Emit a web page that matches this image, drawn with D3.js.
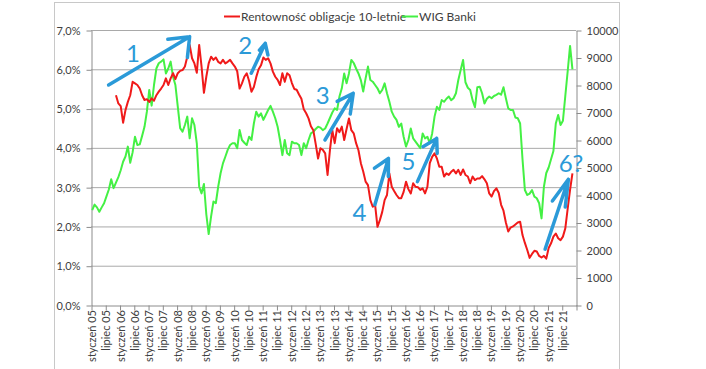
<!DOCTYPE html>
<html><head><meta charset="utf-8">
<script src="https://cdn.jsdelivr.net/npm/d3@7"></script>
<style>
body{margin:0;background:#fff}
svg{display:block}
text{font-family:Lato,"Open Sans",sans-serif}
</style>
</head><body>
<svg id="c" width="706" height="369"></svg>
<script>
const monthNames = ["styczeń","luty","marzec","kwiecień","maj","czerwiec","lipiec","sierpień","wrzesień","październik","listopad","grudzień"];
const yearLabels = ["05","06","07","08","09","10","11","12","13","14","15","16","17","18","19","20","21"];
const categories = yearLabels.flatMap(y => monthNames.map(m => m + " " + y));
const leftTicks = [0,1,2,3,4,5,6,7];
const rightTicks = [0,1000,2000,3000,4000,5000,6000,7000,8000,9000,10000];
const seriesNames = ["Rentowność obligacje 10-letnie","WIG Banki"];

// WIG Banki (right axis), monthly from styczeń 05
const wigBanki = [
3450,3650,3550,3390,3550,3700,3950,4200,4570,4250,
4450,4650,4900,5210,5400,5760,5170,5550,6120,5820,
5840,6150,6480,7030,7820,7250,8000,8600,8790,8850,
8930,8420,8600,8850,8300,8000,7210,6430,6300,6545,
6850,6060,6790,6545,5880,4300,4060,4400,3300,2580,
3210,3760,3700,4300,4790,5150,5390,5640,5820,5880,
5880,5700,6360,6000,5900,5820,6120,6000,6600,7030,
6850,6970,6730,6910,7090,7240,7030,6790,6480,6000,
5450,6000,5520,5450,5940,5880,5880,5820,5450,5880,
5700,6000,6240,6300,6400,6480,6450,6360,6420,6600,
6800,7000,7150,7090,7580,7880,8420,8060,8420,8910,
8800,8600,8420,8180,7760,8240,8670,8180,8120,8000,
7880,7700,7820,8060,7700,7390,7030,6850,6730,6480,
6600,6120,5760,6000,6420,6060,5940,5820,5700,6240,
6060,6120,5880,6240,6850,7210,7090,7450,7390,7500,
7580,7450,7520,7700,8180,8550,8910,8100,7900,7820,
7450,7190,7920,7940,7700,7330,7500,7580,7520,7600,
7640,7700,7650,7920,7520,7150,7090,7090,6820,6790,
6600,5300,4180,4000,4050,4180,3940,3880,3700,3150,
4300,4800,5000,5300,5600,6600,6910,6545,6700,7600,
8500,9420,8570];

// Rentowność obligacji 10-letnich, % (left axis), same months
const bondYield = [
null,null,null,null,null,null,null,null,null,null,
5.34,5.13,5.06,4.64,4.96,5.17,5.34,5.68,5.64,5.60,
5.51,5.34,5.22,5.24,5.17,5.26,5.20,5.34,5.43,5.51,
5.60,5.77,5.60,5.77,5.90,5.75,5.90,5.96,5.98,6.07,
6.32,6.62,6.28,6.15,5.91,6.62,6.07,5.40,5.81,6.15,
6.32,6.24,6.30,6.19,6.15,6.24,6.15,6.19,6.24,6.15,
6.07,5.95,5.51,5.64,5.81,5.90,5.70,5.43,5.55,5.80,
6.00,6.10,6.30,6.24,6.28,6.15,5.94,5.81,5.73,5.60,
5.90,5.68,5.90,5.85,5.65,5.50,5.48,5.36,5.25,4.98,
4.88,4.75,4.55,4.45,4.10,3.73,3.99,3.95,3.86,3.31,
3.94,4.45,4.12,4.50,4.40,4.54,4.20,4.48,4.75,4.45,
4.37,4.12,3.94,3.61,3.40,3.14,3.05,2.67,2.50,2.55,
1.99,2.16,2.37,2.67,2.80,3.35,3.01,2.90,2.80,2.72,
2.72,2.88,3.14,2.95,2.84,3.10,3.01,3.00,2.93,2.97,
2.84,3.01,3.61,3.77,3.86,3.73,3.52,3.52,3.27,3.35,
3.31,3.39,3.44,3.35,3.44,3.31,3.45,3.31,3.27,3.10,
3.27,3.18,3.22,3.22,3.28,3.20,3.10,2.84,2.76,2.90,
2.97,2.85,2.55,2.40,2.10,1.87,1.97,2.00,2.05,2.10,
2.12,1.78,1.58,1.40,1.20,1.30,1.38,1.36,1.25,1.21,
1.25,1.18,1.45,1.57,1.74,1.82,1.70,1.65,1.74,1.95,
2.45,2.93,3.35];

// annotation arrows: [category index, % on left axis]
const arrowLabels = ["1","2","3","4","5","6?"];
const arrowFrom = [[6.9,5.60],[66.9,5.90],[97.9,4.20],[118.9,2.55],[136.8,3.14],[190.5,1.42]];
const arrowTo   = [[41.0,6.83],[72.8,6.66],[109.8,5.39],[124.6,3.73],[144.9,4.24],[200.3,3.20]];
const arrowText = [[17.2,6.40],[64.4,6.62],[97.0,5.34],[112.4,2.37],[133.0,3.65],[201.4,3.61]];
// hand-drawn arrow heads: [angle offset, length] for each of the two barbs
const arrowBarbs = [
  [[24,22],[-53,21]],
  [[15,9],[-38,12]],
  [[32,18],[-23,21]],
  [[39,17],[-16,18]],
  [[35,16],[-26,15]],
  [[18,27],[-12,28]]
];

const svg = d3.select("#c");
const L = 91, R = 576, T = 30, B = 305;
const axisColor = "#8c8c8c", gridColor = "#a9a9a9", textColor = "#404040";
const red = "#f01a1a", green = "#44f044", blue = "#2b9ad8";

svg.append("rect").attr("width",706).attr("height",369).attr("fill","#fff");
svg.append("rect").attr("x",54.5).attr("y",2.5).attr("width",565).attr("height",400)
  .attr("fill","none").attr("stroke","#c8c8c8");

const xBand = d3.scaleBand().domain(categories).range([L,R]).padding(0);
const xi = d3.scaleLinear().domain([0,categories.length]).range([L,R]);
const yL = d3.scaleLinear().domain([0,7]).range([B,T]);
const yR = d3.scaleLinear().domain([0,10000]).range([B,T]);

// gridlines
svg.append("g").selectAll("line").data(leftTicks.filter(d=>d>0)).join("line")
  .attr("x1",L).attr("x2",R).attr("y1",d=>yL(d)+0.5).attr("y2",d=>yL(d)+0.5)
  .attr("stroke",gridColor).attr("stroke-width",1);

function styleAxis(g){
  g.selectAll("path,line").attr("stroke",axisColor);
  g.selectAll("text").attr("fill",textColor).style("font-family","Lato").style("font-size","11px");
}

// left axis
svg.append("g").attr("transform",`translate(${L+0.5},0.5)`)
  .call(d3.axisLeft(yL).tickValues(leftTicks).tickSize(5).tickSizeOuter(0).tickPadding(6)
    .tickFormat(d=>d.toFixed(1).replace(".",",")+"%"))
  .call(styleAxis);

// right axis
svg.append("g").attr("transform",`translate(${R+0.5},0.5)`)
  .call(d3.axisRight(yR).tickValues(rightTicks).tickSize(5).tickSizeOuter(0).tickPadding(5)
    .tickFormat(d3.format("d")))
  .call(styleAxis);

// bottom tick marks (between categories)
svg.append("g").attr("transform",`translate(0.5,${B+0.5})`)
  .call(d3.axisBottom(xi).tickValues(d3.range(0,categories.length+1,6)).tickSize(5).tickSizeOuter(0).tickFormat(""))
  .call(styleAxis);

// bottom labels
const labelCats = categories.filter((c,i)=>i%6===0);
const xl = svg.append("g").attr("transform",`translate(0,${B})`)
  .call(d3.axisBottom(xBand).tickValues(labelCats).tickSize(0));
xl.select(".domain").remove();
xl.selectAll("text").attr("transform","rotate(-90)").attr("x",-5).attr("y",0).attr("dy","0.35em")
  .attr("text-anchor","end").attr("fill",textColor).style("font-family","Lato").style("font-size","11px");

const cx = i => xBand(categories[i]) + xBand.bandwidth()/2;

// series
svg.append("path").datum(wigBanki)
  .attr("d", d3.line().defined(d=>d!=null).x((d,i)=>cx(i)).y(d=>yR(d)))
  .attr("fill","none").attr("stroke",green).attr("stroke-width",2).attr("stroke-linejoin","round");
svg.append("path").datum(bondYield)
  .attr("d", d3.line().defined(d=>d!=null).x((d,i)=>cx(i)).y(d=>yL(d)))
  .attr("fill","none").attr("stroke",red).attr("stroke-width",2).attr("stroke-linejoin","round");

// legend
const lg = svg.append("g");
[[224,red,0],[402,green,1]].forEach(([x,c,k])=>{
  lg.append("line").attr("x1",x).attr("x2",x+16).attr("y1",16.5).attr("y2",16.5).attr("stroke",c).attr("stroke-width",2);
  lg.append("text").attr("x",x+17).attr("y",20.5).attr("fill",textColor)
    .style("font-size","12px").text(seriesNames[k]);
});

// arrows
const ax = i => xi(i+0.5);
const ag = svg.append("g").attr("stroke",blue).attr("stroke-width",3.5).attr("stroke-linecap","round").attr("fill","none");
arrowLabels.forEach((lab,k)=>{
  const x0 = ax(arrowFrom[k][0]), y0 = yL(arrowFrom[k][1]);
  const x1 = ax(arrowTo[k][0]), y1 = yL(arrowTo[k][1]);
  const a = Math.atan2(y0-y1, x0-x1);
  const [b1,b2] = arrowBarbs[k].map(([off,len]) => {
    const t = a + off*Math.PI/180;
    return [x1+len*Math.cos(t), y1+len*Math.sin(t)];
  });
  ag.append("path").attr("d",
    `M${x0},${y0}L${x1},${y1}M${b1[0]},${b1[1]}L${x1},${y1}L${b2[0]},${b2[1]}`)
    .attr("stroke-linejoin","round");
  svg.append("text").attr("x",ax(arrowText[k][0])).attr("y",yL(arrowText[k][1])).attr("dy","0.36em")
    .attr("text-anchor","middle").attr("fill",blue).style("font-size","24px").text(lab);
});
</script>
</body></html>
